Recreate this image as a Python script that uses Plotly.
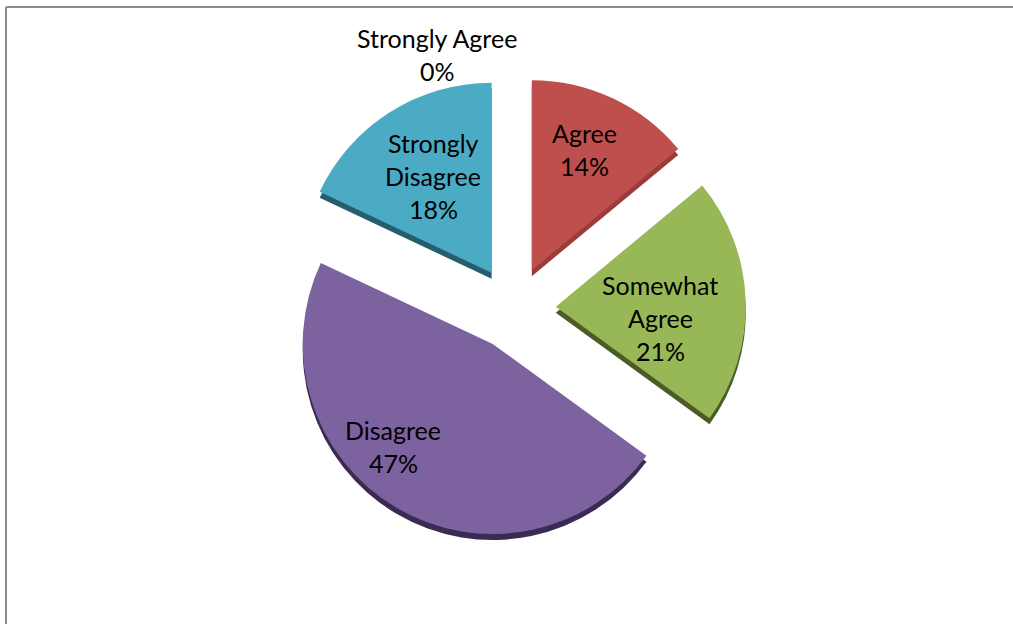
import plotly.graph_objects as go

# Survey responses, clockwise from 12 o'clock
categories = ["Strongly Agree", "Agree", "Somewhat Agree", "Disagree", "Strongly Disagree"]
percent = [0, 14, 21, 47, 18]
label_lines = [["Strongly Agree"], ["Agree"], ["Somewhat", "Agree"], ["Disagree"], ["Strongly", "Disagree"]]

face_colors = ["#4F81BD", "#BE4F4C", "#98B857", "#7D62A0", "#4BABC5"]
edge_colors = ["#2F4F76", "#9A3C39", "#4B5C27", "#3B2A52", "#275E6D"]

W, H = 1013, 624

# pie geometry in pixels
cx, cy = 514, 308
radius = 190
pull = 0.22
half = radius * (1 + pull)
depth = 6  # thickness of the extruded rim


def dom(dx=0, dy=0):
    return dict(
        x=[(cx - half + dx) / W, (cx + half + dx) / W],
        y=[1 - (cy + half + dy) / H, 1 - (cy - half + dy) / H],
    )


common = dict(
    labels=categories,
    values=percent,
    sort=False,
    direction="clockwise",
    rotation=0,
    pull=[pull] * len(percent),
    textinfo="none",
    hoverinfo="label+percent",
    showlegend=False,
)

fig = go.Figure()
# darker copy shifted down gives the slices their 3D rim
fig.add_trace(go.Pie(domain=dom(0, depth), marker=dict(colors=edge_colors, line=dict(width=0)), **common))
fig.add_trace(go.Pie(domain=dom(0, 0), marker=dict(colors=face_colors, line=dict(width=0)), **common))

# data label anchors (pixel centres of the text blocks)
label_pos = [(437, 54), (584, 149), (660, 318), (393, 446), (433, 176)]
line_gap = 33

annotations = []
for lines, pct, (lx, ly) in zip(label_lines, percent, label_pos):
    rows = lines + [f"{pct}%"]
    top = ly - line_gap * (len(rows) - 1) / 2
    for i, row in enumerate(rows):
        annotations.append(dict(
            x=lx / W, y=1 - (top + i * line_gap) / H,
            xref="paper", yref="paper",
            text=row, showarrow=False,
            font=dict(family="Lato, Carlito, sans-serif", size=25, color="#000000"),
            xanchor="center", yanchor="middle",
        ))

# chart-area frame (top and left edges)
shapes = [
    dict(type="line", xref="paper", yref="paper", x0=6 / W, x1=1, y0=1 - 7 / H, y1=1 - 7 / H,
         line=dict(color="#8C8C8C", width=2)),
    dict(type="line", xref="paper", yref="paper", x0=6 / W, x1=6 / W, y0=1 - 7 / H, y1=0,
         line=dict(color="#8C8C8C", width=2)),
]

fig.update_layout(
    width=W, height=H,
    margin=dict(l=0, r=0, t=0, b=0),
    paper_bgcolor="#FFFFFF",
    plot_bgcolor="#FFFFFF",
    annotations=annotations,
    shapes=shapes,
)

fig.write_html("out.html")
